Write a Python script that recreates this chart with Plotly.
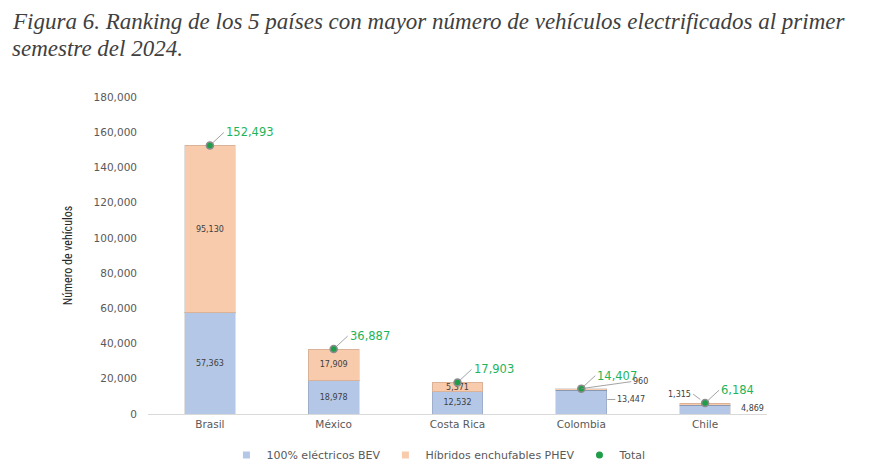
import plotly.graph_objects as go

categories = ["Brasil", "México", "Costa Rica", "Colombia", "Chile"]
bev = [57363, 18978, 12532, 13447, 4869]
phev = [95130, 17909, 5371, 960, 1315]
total = [152493, 36887, 17903, 14407, 6184]
y_ticks = [0, 20000, 40000, 60000, 80000, 100000, 120000, 140000, 160000, 180000]
title_lines = [
    "Figura 6. Ranking de los 5 países con mayor número de vehículos electrificados al primer",
    "semestre del 2024.",
]

BLUE = "#b4c7e7"
ORANGE = "#f8cbad"
GREEN_TXT = "#1fb45a"
GREEN_MK = "#1f9e4a"
GRAY = "#595959"
FONT = "DejaVu Sans"

# page offset (browser body margin)
OFF = 8
L, R, T, B = 148 - OFF, 893 - (767 - OFF), 97 - OFF, 475 - (414 - OFF)
PH = 475 - T - B
PW = 893 - L - R

def fmt(v):
    return f"{v:,}"

inside = [True, True, True, False, False]

fig = go.Figure()
fig.add_trace(go.Bar(
    x=categories, y=bev, name="100% eléctricos BEV", showlegend=False,
    marker=dict(color=BLUE, line=dict(color="rgba(0,0,0,0.12)", width=1)),
    text=[fmt(v) if ins else "" for v, ins in zip(bev, inside)],
    textposition="inside", insidetextanchor="middle", textangle=0,
    constraintext="none",
    textfont=dict(family=FONT, size=8, color="#404040"),
    width=0.41,
))
fig.add_trace(go.Bar(
    x=categories, y=phev, name="Híbridos enchufables PHEV", showlegend=False,
    marker=dict(color=ORANGE, line=dict(color="rgba(0,0,0,0.12)", width=1)),
    text=[fmt(v) if ins else "" for v, ins in zip(phev, inside)],
    textposition="inside", insidetextanchor="middle", textangle=0,
    constraintext="none",
    textfont=dict(family=FONT, size=8, color="#404040"),
    width=0.41,
))
fig.add_trace(go.Scatter(
    x=categories, y=total, name="Total", mode="markers", showlegend=False,
    marker=dict(color=GREEN_MK, size=7, line=dict(color="#8c8c8c", width=1.5)),
))
# legend entries
for name, col, sym in [("100% eléctricos BEV", BLUE, "square"),
                       ("Híbridos enchufables PHEV", ORANGE, "square"),
                       ("Total", GREEN_MK, "circle")]:
    fig.add_trace(go.Scatter(x=[None], y=[None], mode="markers", name=name,
                             marker=dict(color=col, size=7, symbol=sym)))

annotations = []
for i, line in enumerate(title_lines):
    annotations.append(dict(
        x=(10 - OFF - L) / PW, y=(475 - B - (22 + 26 * i - OFF)) / PH, xref="paper", yref="paper",
        text=line, showarrow=False, xanchor="left", yanchor="middle",
        font=dict(family="Liberation Serif", size=23, color="#404040", style="italic"),
    ))
# Total labels with leader lines
for c, t in zip(categories, total):
    annotations.append(dict(
        x=c, y=t, xref="x", yref="y", text=fmt(t), showarrow=True,
        arrowhead=0, arrowwidth=0.8, arrowcolor="#8c8c8c",
        ax=14, ay=-13, xanchor="left", yanchor="middle",
        font=dict(family=FONT, size=11.5, color=GREEN_TXT),
        standoff=3,
    ))
# Colombia outside labels
annotations.append(dict(x="Colombia", y=total[3], xref="x", yref="y", text=fmt(phev[3]),
                        showarrow=True, arrowhead=0, arrowwidth=0.8, arrowcolor="#8c8c8c",
                        ax=50, ay=-7, xanchor="left", yanchor="middle",
                        font=dict(family=FONT, size=8, color="#404040")))
annotations.append(dict(x="Colombia", y=bev[3] / 2 + 1500, xref="x", yref="y", text=fmt(bev[3]),
                        showarrow=True, arrowhead=0, arrowwidth=0.8, arrowcolor="#8c8c8c",
                        ax=34, ay=0, xanchor="left", yanchor="middle", standoff=26,
                        font=dict(family=FONT, size=8, color="#404040")))
# Chile outside labels
annotations.append(dict(x="Chile", y=total[4], xref="x", yref="y", text=fmt(phev[4]),
                        showarrow=True, arrowhead=0, arrowwidth=0.8, arrowcolor="#8c8c8c",
                        ax=-12, ay=-9, xanchor="right", yanchor="middle", standoff=6,
                        font=dict(family=FONT, size=8, color="#404040")))
annotations.append(dict(x="Chile", y=0, xref="x", yref="y", text=fmt(bev[4]),
                        showarrow=False, xshift=34, yshift=-1, xanchor="left", yanchor="bottom",
                        font=dict(family=FONT, size=8, color="#404040")))

fig.update_layout(
    width=893, height=475,
    paper_bgcolor="white", plot_bgcolor="white",
    barmode="stack", bargap=0.59,
    margin=dict(l=L, r=R, t=T, b=B, autoexpand=False),
    font=dict(family=FONT, color=GRAY),
    showlegend=True,
    legend=dict(orientation="h", x=0.47, xanchor="center", y=(414 - 455) / PH, yanchor="middle",
                font=dict(family=FONT, size=11, color=GRAY), traceorder="normal",
                itemwidth=30),
    annotations=annotations,
)
fig.update_xaxes(
    range=[-0.5, 4.5], showline=True, linecolor="#d9d9d9", linewidth=1,
    ticks="", showgrid=False, tickfont=dict(family=FONT, size=10.5, color=GRAY),
    automargin=False,
)
fig.update_yaxes(
    range=[0, 180000], tickvals=y_ticks, ticktext=[fmt(v) for v in y_ticks],
    showgrid=False, zeroline=False, showline=False, ticks="",
    tickfont=dict(family=FONT, size=10.5, color=GRAY), ticklabelstandoff=10,
    automargin=False,
    title=dict(text="Número de vehículos", standoff=18,
               font=dict(family="Liberation Sans Narrow, Roboto Condensed, sans-serif", size=12, color="#262626")),
)

fig.write_html("out.html")
